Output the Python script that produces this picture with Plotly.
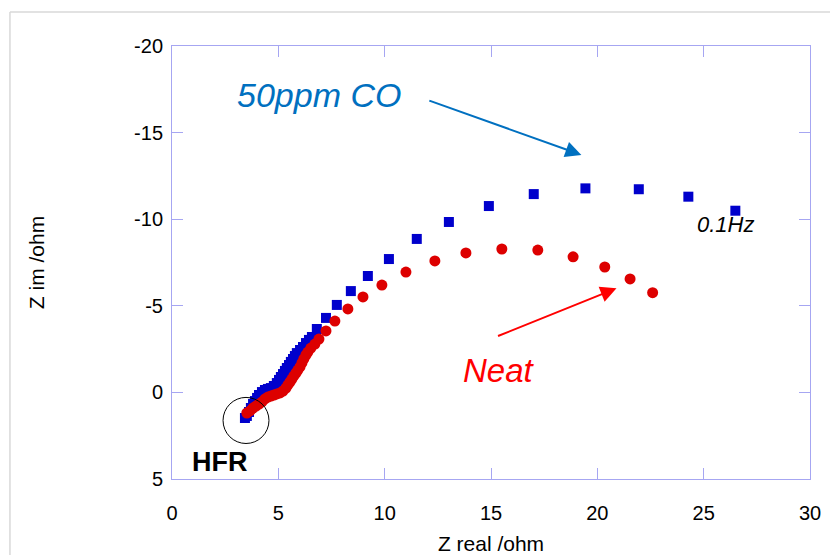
import plotly.graph_objects as go

# 50ppm CO series (Z real, Z im) in ohm
co_zreal = [3.43, 3.52, 3.62, 3.71, 3.81, 3.90, 4.00, 4.09, 4.23, 4.37, 4.51, 4.65, 4.79, 4.93,
            5.03, 5.12, 5.22, 5.31, 5.40, 5.50, 5.59, 5.69, 5.78, 5.87, 6.02, 6.16, 6.30, 6.44,
            6.58, 6.81, 7.24, 7.75, 8.41, 9.21, 10.20, 11.51, 13.02, 14.90, 17.01, 19.44,
            21.95, 24.28, 26.49]
co_zim = [1.48, 1.36, 1.13, 0.90, 0.67, 0.50, 0.32, 0.15, -0.02, -0.14, -0.20, -0.25, -0.37, -0.54,
          -0.72, -0.89, -1.06, -1.24, -1.41, -1.58, -1.76, -1.93, -2.10, -2.27, -2.45, -2.62, -2.85,
          -3.03, -3.20, -3.66, -4.30, -5.05, -5.85, -6.72, -7.70, -8.86, -9.84, -10.76, -11.45,
          -11.78, -11.73, -11.30, -10.49]

# Neat series
neat_zreal = [3.52, 3.67, 3.81, 3.95, 4.09, 4.23, 4.37, 4.51, 4.65, 4.79, 4.93, 5.08, 5.22, 5.36,
              5.45, 5.55, 5.64, 5.73, 5.83, 5.92, 6.02, 6.11, 6.20, 6.30, 6.39, 6.53, 6.72, 6.91,
              7.24, 7.66, 8.27, 8.98, 9.87, 11.00, 12.36, 13.82, 15.51, 17.20, 18.86, 20.35,
              21.54, 22.60]
neat_zim = [1.19, 1.07, 0.90, 0.79, 0.67, 0.55, 0.38, 0.27, 0.21, 0.15, 0.09, 0.03, -0.08, -0.25,
            -0.43, -0.60, -0.77, -0.95, -1.12, -1.29, -1.47, -1.70, -1.93, -2.16, -2.33, -2.56,
            -2.79, -3.08, -3.55, -4.12, -4.82, -5.51, -6.20, -6.95, -7.59, -8.05, -8.28, -8.22,
            -7.83, -7.24, -6.55, -5.76]

x_ticks = [0, 5, 10, 15, 20, 25, 30]
y_ticks = [-20, -15, -10, -5, 0, 5]

FONT = "Liberation Sans, Arial, sans-serif"
FRAME = "#A6A6F2"

fig = go.Figure()
fig.add_trace(go.Scatter(x=co_zreal, y=co_zim, mode="markers", name="50ppm CO",
                         marker=dict(symbol="square", size=10, color="#0000CC")))
fig.add_trace(go.Scatter(x=neat_zreal, y=neat_zim, mode="markers", name="Neat",
                         marker=dict(symbol="circle", size=11, color="#DD0000")))

axis_common = dict(showgrid=False, zeroline=False, showline=True, linecolor=FRAME, linewidth=1,
                   mirror="ticks", ticks="inside", ticklen=11, tickcolor=FRAME, tickwidth=1,
                   automargin=False,
                   tickfont=dict(family=FONT, size=20, color="black"))

fig.update_layout(
    width=830, height=555,
    margin=dict(l=172, r=20, t=46, b=76, autoexpand=False),
    paper_bgcolor="white", plot_bgcolor="white",
    showlegend=False,
    font=dict(family=FONT, color="black"),
    xaxis=dict(range=[0, 30], tickvals=x_ticks, ticktext=[str(v) for v in x_ticks],
               ticklabelstandoff=16,
               title=dict(text="Z real /ohm", font=dict(family=FONT, size=21), standoff=22),
               **axis_common),
    yaxis=dict(range=[5, -20], tickvals=y_ticks, ticktext=[str(v) for v in y_ticks],
               ticklabelstandoff=4,
               title=dict(text="Z im /ohm", font=dict(family=FONT, size=21), standoff=83),
               **axis_common),
)

# annotations
fig.add_annotation(x=2.96, y=-17.2, xref="x", yref="y", text="<i>50ppm CO</i>", showarrow=False,
                   xanchor="left", yanchor="middle", font=dict(family=FONT, size=34, color="#0070C0"))
fig.add_annotation(x=19.25, y=-13.71, ax=12.03, ay=-16.88, xref="x", yref="y", axref="x", ayref="y",
                   text="", showarrow=True, arrowhead=2, arrowsize=1.6, arrowwidth=2, arrowcolor="#0070C0")
fig.add_annotation(x=13.61, y=-1.24, xref="x", yref="y", text="<i>Neat</i>", showarrow=False,
                   xanchor="left", yanchor="middle", font=dict(family=FONT, size=33, color="#FF0000"))
fig.add_annotation(x=20.90, y=-6.01, ax=15.26, ay=-3.22, xref="x", yref="y", axref="x", ayref="y",
                   text="", showarrow=True, arrowhead=2, arrowsize=1.6, arrowwidth=2, arrowcolor="#FF0000")
fig.add_annotation(x=24.58, y=-9.70, xref="x", yref="y", text="<i>0.1Hz</i>", showarrow=False,
                   xanchor="left", yanchor="middle", font=dict(family=FONT, size=22, color="black"))
fig.add_annotation(x=0.85, y=3.99, xref="x", yref="y", text="<b>HFR</b>", showarrow=False,
                   xanchor="left", yanchor="middle", font=dict(family=FONT, size=27, color="black"))

fig.add_shape(type="circle", xref="x", yref="y", x0=2.40, x1=4.56, y0=0.29, y1=2.95,
              line=dict(color="black", width=1))

# slide border lines
fig.add_shape(type="line", xref="paper", yref="paper", x0=-0.254, x1=1.05, y0=1.0785, y1=1.0785,
              line=dict(color="#D9D9D9", width=1.5))
fig.add_shape(type="line", xref="paper", yref="paper", x0=-0.254, x1=-0.254, y0=1.0785, y1=-0.2,
              line=dict(color="#D9D9D9", width=1.5))

# remove the default 8px page margin so the 830x555 figure fills the window exactly
fig.write_html("out.html", config={"displayModeBar": False},
               post_script="document.body.style.margin='0';document.body.style.overflow='hidden';")
